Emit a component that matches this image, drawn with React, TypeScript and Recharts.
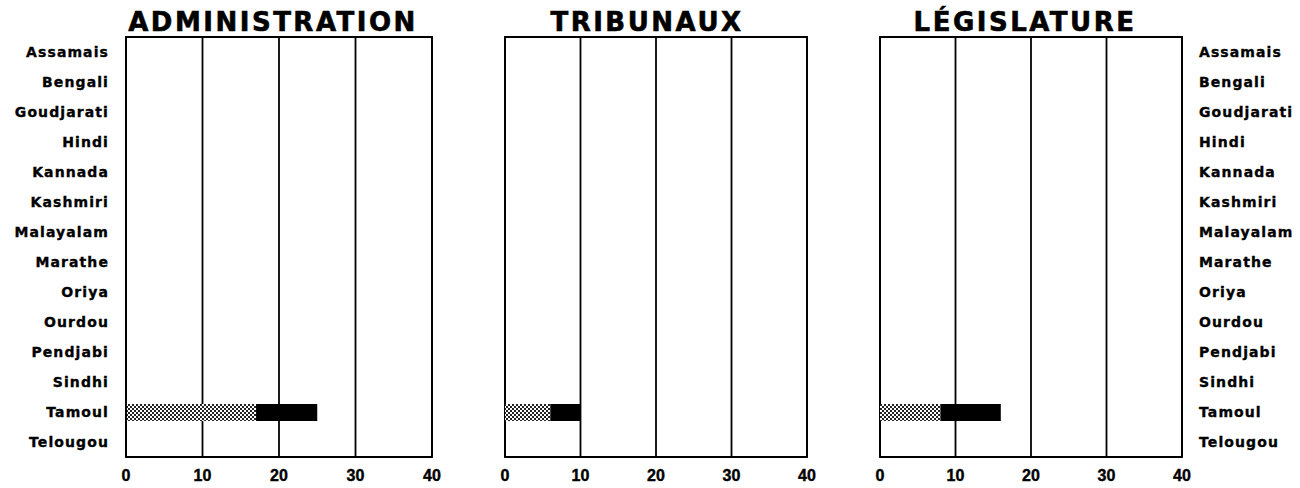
import React from 'react';
import { BarChart, Bar, XAxis, YAxis, CartesianGrid, ReferenceArea } from 'recharts';

const languages = [
    'Assamais', 'Bengali', 'Goudjarati', 'Hindi', 'Kannada', 'Kashmiri', 'Malayalam',
    'Marathe', 'Oriya', 'Ourdou', 'Pendjabi', 'Sindhi', 'Tamoul', 'Telougou',
];

// dotted segment / black segment, per language
const adminDotted = [0, 0, 0, 0, 0, 0, 0, 0, 0, 0, 0, 0, 17, 0];
const adminBlack = [0, 0, 0, 0, 0, 0, 0, 0, 0, 0, 0, 0, 8, 0];
const courtsDotted = [0, 0, 0, 0, 0, 0, 0, 0, 0, 0, 0, 0, 6, 0];
const courtsBlack = [0, 0, 0, 0, 0, 0, 0, 0, 0, 0, 0, 0, 4, 0];
const legisDotted = [0, 0, 0, 0, 0, 0, 0, 0, 0, 0, 0, 0, 8, 0];
const legisBlack = [0, 0, 0, 0, 0, 0, 0, 0, 0, 0, 0, 0, 8, 0];

const xTicks = [0, 10, 20, 30, 40];

const titleFont = '"DejaVu Sans", sans-serif';
const labelFont = '"DejaVu Sans", sans-serif';
const numFont = '"Liberation Sans", Arial, sans-serif';

function rows(dotted: number[], black: number[]) {
    return languages.map((name, i) => ({ name, dotted: dotted[i], black: black[i] }));
}

interface PanelProps {
    id: string;
    title: string;
    dotted: number[];
    black: number[];
    left: number;
    width: number;
    margin: { top: number; right: number; bottom: number; left: number };
    labels: 'left' | 'right' | 'none';
    axisWidth: number;
    titleShift: number;
}

function Panel({ id, title, dotted, black, left, width, margin, labels, axisWidth, titleShift }: PanelProps) {
    const data = rows(dotted, black);
    const labelTick = {
        fontFamily: labelFont,
        fontWeight: 700,
        fontSize: 14,
        fill: '#000',
        stroke: '#000',
        strokeWidth: 0.35,
        letterSpacing: 1.1,
    };
    return (
        <div style={{ position: 'absolute', left, top: 0, width, height: 488 }}>
            <div
                style={{
                    position: 'absolute',
                    top: 9,
                    left: titleShift,
                    width,
                    textAlign: 'center',
                    fontFamily: titleFont,
                    fontWeight: 700,
                    fontSize: 26,
                    lineHeight: '26px',
                    letterSpacing: 2.5,
                    color: '#000',
                    WebkitTextStroke: '0.6px #000',
                }}
            >
                {title}
            </div>
            <BarChart width={width} height={488} data={data} layout="vertical" margin={margin} barSize={17}>
                <defs>
                    <pattern id={'dots-' + id} width="4" height="4" patternUnits="userSpaceOnUse">
                        <rect width="4" height="4" fill="#fff" />
                        <rect x="0" y="0" width="2" height="2" fill="#222" />
                        <rect x="2" y="2" width="2" height="2" fill="#222" />
                    </pattern>
                </defs>
                <CartesianGrid horizontal={false} stroke="#000" strokeWidth={1.8} />
                <XAxis
                    type="number"
                    domain={[0, 40]}
                    ticks={xTicks}
                    height={28}
                    tickSize={0}
                    tickMargin={13}
                    tickLine={false}
                    axisLine={{ stroke: '#000', strokeWidth: 1.8 }}
                    tick={{ fontFamily: numFont, fontWeight: 700, fontSize: 16, fill: '#000', stroke: '#000', strokeWidth: 0.4 }}
                    interval={0}
                />
                <YAxis
                    type="category"
                    dataKey="name"
                    orientation={labels === 'right' ? 'right' : 'left'}
                    hide={labels === 'none'}
                    width={axisWidth}
                    tickSize={0}
                    tickMargin={17}
                    tickLine={false}
                    axisLine={{ stroke: '#000', strokeWidth: 1.8 }}
                    tick={labelTick}
                    interval={0}
                />
                <Bar dataKey="dotted" stackId="a" fill={`url(#dots-${id})`} isAnimationActive={false} />
                <Bar dataKey="black" stackId="a" fill="#000" isAnimationActive={false} />
                {/* frame round the plot */}
                <ReferenceArea x1={0} x2={40} fill="none" stroke="#000" strokeWidth={1.8} ifOverflow="visible" />
            </BarChart>
        </div>
    );
}

export default function App() {
    return (
        <div style={{ position: 'absolute', left: 0, top: 0, width: 1300, height: 488, background: '#fff', overflow: 'hidden' }}>
            <Panel
                id="adm"
                title="ADMINISTRATION"
                dotted={adminDotted}
                black={adminBlack}
                left={0}
                width={460}
                margin={{ top: 37, right: 28, bottom: 3, left: 0 }}
                labels="left"
                axisWidth={126}
                titleShift={43}
            />
            <Panel
                id="trib"
                title="TRIBUNAUX"
                dotted={courtsDotted}
                black={courtsBlack}
                left={480}
                width={350}
                margin={{ top: 37, right: 23, bottom: 3, left: 25 }}
                labels="none"
                axisWidth={0}
                titleShift={-8}
            />
            <Panel
                id="leg"
                title="LÉGISLATURE"
                dotted={legisDotted}
                black={legisBlack}
                left={860}
                width={440}
                margin={{ top: 37, right: 18, bottom: 3, left: 20 }}
                labels="right"
                axisWidth={100}
                titleShift={-55}
            />
        </div>
    );
}
